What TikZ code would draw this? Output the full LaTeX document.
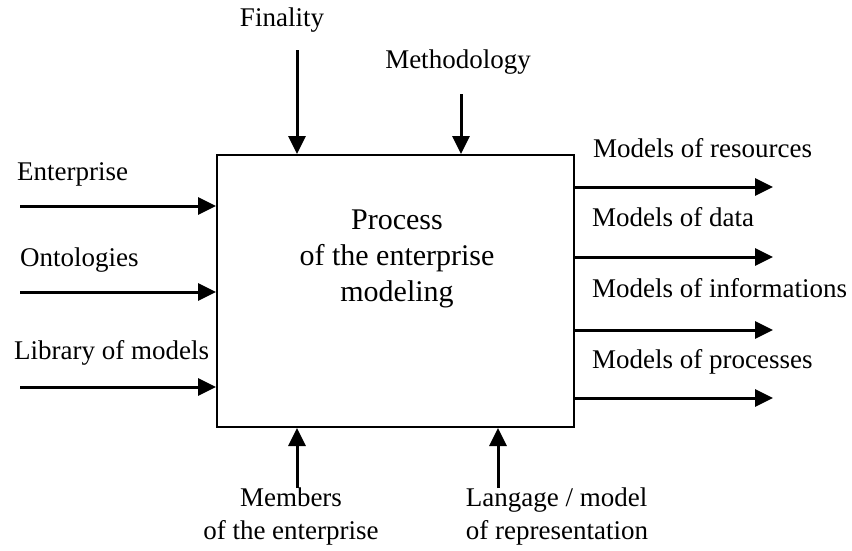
\documentclass[tikz,border=0pt]{standalone}
\usepackage{fontspec}
\setmainfont{Liberation Serif}
\usetikzlibrary{arrows.meta}
\begin{document}
\begin{tikzpicture}[x=1pt,y=-1pt,
  lbl/.style={inner sep=0pt,font=\fontsize{27}{33}\selectfont},
  arr/.style={line width=3pt,-{Triangle[length=18pt,width=17pt]}},
  boxst/.style={draw,line width=2pt,minimum width=357pt,minimum height=272pt,inner sep=0pt}]
\useasboundingbox (0,0) rectangle (852,550);
\node[boxst] (box) at (395.5,291) {};
\node[inner sep=0pt,font=\fontsize{30}{36}\selectfont,align=center] (title) at (397,259) {Process\\of the enterprise\\modeling};
% top
\node[lbl] (tfin) at (282,20) {Finality};
\node[lbl] (tmet) at (458,62) {Methodology};
\coordinate (cfin) at (297,50);
\coordinate (cmet) at (461,94);
\draw[arr] (cfin) -- (cfin |- box.north);
\draw[arr] (cmet) -- (cmet |- box.north);
% left
\node[lbl,anchor=west] (tent) at (17,174) {Enterprise};
\node[lbl,anchor=west] (tont) at (20,260) {Ontologies};
\node[lbl,anchor=west] (tlib) at (14,353) {Library of models};
\coordinate (cent) at (20,206);
\coordinate (cont) at (20,292);
\coordinate (clib) at (20,387);
\draw[arr] (cent) -- (cent -| box.west);
\draw[arr] (cont) -- (cont -| box.west);
\draw[arr] (clib) -- (clib -| box.west);
% right
\node[lbl,anchor=west] (tres) at (593,148) {Models of resources};
\node[lbl,anchor=west] (tdat) at (592,217) {Models of data};
\node[lbl,anchor=west] (tinf) at (592,288) {Models of informations};
\node[lbl,anchor=west] (tpro) at (592,362) {Models of processes};
\coordinate (cres) at (773,187);
\coordinate (cdat) at (773,257);
\coordinate (cinf) at (773,330);
\coordinate (cpro) at (773,398);
\draw[arr] (cres -| box.east) -- (cres);
\draw[arr] (cdat -| box.east) -- (cdat);
\draw[arr] (cinf -| box.east) -- (cinf);
\draw[arr] (cpro -| box.east) -- (cpro);
% bottom
\node[lbl,align=center] (tmem) at (291,516) {Members\\of the enterprise};
\node[lbl,align=left] (tlan) at (557,516) {Langage / model\\of representation};
\coordinate (cmem) at (297,488);
\coordinate (clan) at (498,488);
\draw[arr] (cmem) -- (cmem |- box.south);
\draw[arr] (clan) -- (clan |- box.south);
\end{tikzpicture}
\end{document}
